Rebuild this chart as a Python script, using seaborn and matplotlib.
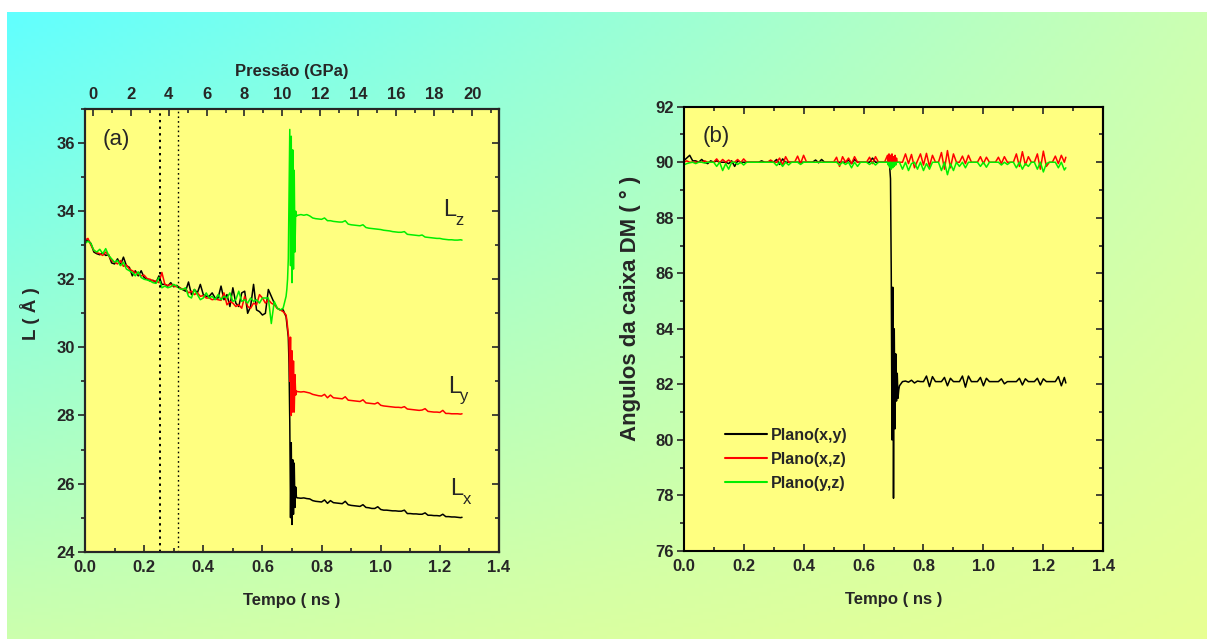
import numpy as np
import matplotlib
matplotlib.use("Agg")
import matplotlib.pyplot as plt
import seaborn as sns
from matplotlib.ticker import MultipleLocator

sns.set_style("ticks")
plt.rcParams["font.family"] = ["Liberation Sans", "DejaVu Sans"]
plt.rcParams["font.weight"] = "bold"

# ---- time grid (ns): coarse, dense window around the collapse, coarse again ----
t_early = np.round(np.arange(69) * 0.01, 4)
t_jump = np.round(0.6825 + np.arange(15) * 0.0025, 4)
t_late = np.round(np.append(0.72 + np.arange(56) * 0.01, 1.275), 4)
tempo = np.concatenate([t_early, t_jump, t_late])

# ---- box lengths L (Angstrom) ----
Lx = [33.10, 33.15, 33.05, 32.80, 32.75, 32.72, 32.78, 32.70, 32.72, 32.48,
      32.45, 32.60, 32.42, 32.65, 32.40, 32.35, 32.10, 32.25, 32.10, 32.25,
      32.05, 32.00, 31.95, 31.97, 31.90, 32.10, 31.85, 31.85, 31.80, 31.90,
      31.78, 31.82, 31.75, 31.70, 31.65, 31.92, 31.55, 31.70, 31.60, 31.85,
      31.55, 31.50, 31.50, 31.60, 31.45, 31.45, 31.80, 31.40, 31.55, 31.20,
      31.75, 31.30, 31.20, 31.60, 31.65, 31.00, 31.20, 31.85, 31.10, 31.05,
      30.95, 31.00, 31.70, 31.50, 31.30, 31.15, 31.10, 31.10, 30.90,
      30.70, 30.50, 30.30, 29.50, 27.80, 25.00, 27.20, 24.80, 26.70, 25.10,
      26.60, 25.30, 25.90, 25.60, 25.58,
      25.58, 25.57, 25.58, 25.56, 25.55, 25.50, 25.48, 25.47,
      25.46, 25.52, 25.42, 25.50, 25.44, 25.43, 25.42, 25.41, 25.48, 25.38,
      25.36, 25.35, 25.34, 25.33, 25.38, 25.30, 25.29, 25.27, 25.27, 25.32,
      25.24, 25.22, 25.22, 25.21, 25.20, 25.20, 25.19, 25.19, 25.22, 25.12,
      25.12, 25.11, 25.11, 25.10, 25.10, 25.14, 25.07, 25.07, 25.06, 25.06,
      25.05, 25.10, 25.03, 25.03, 25.02, 25.02, 25.01, 25.00, 25.01]

Ly = [33.15, 33.20, 33.00, 32.85, 32.78, 32.75, 32.70, 32.80, 32.70, 32.55,
      32.50, 32.45, 32.55, 32.38, 32.42, 32.30, 32.25, 32.20, 32.15, 32.10,
      32.12, 32.02, 32.00, 31.95, 31.95, 31.90, 32.20, 31.85, 31.82, 31.85,
      31.80, 31.78, 31.75, 31.70, 31.72, 31.60, 31.65, 31.55, 31.60, 31.50,
      31.52, 31.45, 31.45, 31.40, 31.42, 31.40, 31.38, 31.60, 31.25, 31.35,
      31.30, 31.20, 31.25, 31.15, 31.50, 31.20, 31.15, 31.30, 31.25, 31.55,
      31.45, 31.30, 31.40, 31.30, 31.25, 31.15, 31.10, 31.05, 30.95,
      30.80, 30.60, 30.40, 30.20, 29.00, 30.30, 28.00, 29.90, 28.10, 29.60,
      28.10, 29.20, 28.60, 28.72, 28.70,
      28.70, 28.69, 28.70, 28.68, 28.66, 28.62, 28.60, 28.58,
      28.57, 28.62, 28.52, 28.60, 28.52, 28.51, 28.50, 28.49, 28.55, 28.45,
      28.44, 28.43, 28.42, 28.41, 28.46, 28.37, 28.36, 28.35, 28.34, 28.38,
      28.30, 28.28, 28.27, 28.26, 28.25, 28.24, 28.24, 28.23, 28.26, 28.19,
      28.18, 28.17, 28.16, 28.15, 28.16, 28.20, 28.12, 28.11, 28.10, 28.10,
      28.09, 28.15, 28.06, 28.06, 28.05, 28.05, 28.05, 28.04, 28.05]

Lz = [33.05, 33.12, 33.05, 32.85, 32.80, 32.88, 32.75, 32.90, 32.70, 32.60,
      32.50, 32.55, 32.40, 32.50, 32.30, 32.25, 32.20, 32.10, 32.22, 32.05,
      32.00, 31.98, 31.95, 31.90, 31.88, 32.05, 31.75, 31.80, 31.75, 31.78,
      31.85, 31.80, 31.72, 31.70, 31.75, 31.50, 31.45, 31.70, 31.55, 31.40,
      31.45, 31.60, 31.45, 31.50, 31.40, 31.55, 31.40, 31.50, 31.45, 31.60,
      31.35, 31.40, 31.65, 31.35, 31.40, 31.30, 31.45, 31.35, 31.40, 31.30,
      31.45, 31.45, 31.45, 30.70, 31.35, 31.15, 31.10, 31.15, 31.50,
      31.70, 32.00, 32.60, 34.50, 36.40, 32.40, 36.20, 31.90, 35.80, 32.30,
      35.20, 32.80, 34.00, 33.85, 33.88,
      33.88, 33.90, 33.88, 33.90, 33.86, 33.80, 33.78, 33.77,
      33.76, 33.80, 33.72, 33.72, 33.70, 33.69, 33.68, 33.68, 33.72, 33.62,
      33.60, 33.59, 33.58, 33.57, 33.60, 33.52, 33.50, 33.49, 33.48, 33.47,
      33.46, 33.44, 33.43, 33.42, 33.40, 33.39, 33.38, 33.38, 33.40, 33.32,
      33.31, 33.30, 33.29, 33.28, 33.30, 33.24, 33.23, 33.22, 33.21, 33.20,
      33.20, 33.18, 33.17, 33.16, 33.16, 33.15, 33.15, 33.16, 33.15]

# ---- box angles (degrees) ----
ang_xy = [90.05, 90.15, 90.25, 90.05, 90.05, 90.00, 90.10, 90.00, 89.95, 90.05,
          90.00, 90.05, 90.00, 90.00, 90.00, 89.95, 90.05, 89.85, 90.05, 90.00,
          90.00, 90.00, 90.00, 90.00, 90.00, 90.00, 90.05, 90.00, 90.00, 90.05,
          90.00, 90.10, 89.92, 90.12, 90.00, 90.00, 90.00, 90.00, 90.00, 90.00,
          90.00, 90.00, 90.00, 90.00, 90.08, 89.98, 90.10, 90.00, 90.00, 90.00,
          90.00, 90.00, 90.00, 90.00, 90.00, 90.08, 89.95, 90.10, 90.00, 90.00,
          90.00, 90.00, 90.00, 90.15, 90.00, 90.00, 90.00, 90.00, 90.00,
          90.00, 89.95, 89.80, 89.40, 86.00, 80.00, 85.50, 77.90, 84.00, 80.40,
          83.10, 81.40, 82.40, 81.50, 81.80,
          81.95, 82.10, 82.12, 82.08, 82.15, 82.05, 82.12, 82.10,
          82.10, 82.30, 81.92, 82.28, 82.10, 82.10, 82.10, 82.25, 81.95, 82.22,
          82.10, 82.10, 82.10, 82.30, 81.90, 82.30, 82.10, 82.10, 82.10, 82.25,
          81.95, 82.22, 82.10, 82.10, 82.10, 82.10, 82.20, 82.02, 82.10, 82.10,
          82.10, 82.10, 82.22, 81.98, 82.20, 82.10, 82.10, 82.10, 82.22, 81.98,
          82.20, 82.10, 82.10, 82.10, 82.10, 82.28, 81.95, 82.25, 82.05]

ang_xz = [90.00, 90.05, 90.00, 90.00, 90.00, 90.00, 90.00, 90.05, 90.00, 90.00,
          90.00, 90.12, 89.98, 90.10, 90.00, 90.08, 90.00, 90.00, 90.10, 89.98,
          90.12, 90.00, 90.00, 90.00, 90.00, 90.00, 90.00, 90.00, 90.00, 90.08,
          90.00, 90.00, 90.15, 89.90, 90.20, 90.00, 90.00, 90.00, 90.22, 89.95,
          90.25, 90.00, 90.00, 90.00, 90.00, 90.00, 90.00, 90.00, 90.00, 90.00,
          90.00, 90.18, 89.85, 90.20, 90.00, 90.15, 89.95, 90.20, 90.00, 90.00,
          90.00, 90.00, 90.18, 89.95, 90.20, 90.00, 90.00, 90.00, 90.25,
          89.95, 90.30, 89.90, 90.25, 89.95, 90.30, 89.90, 90.20, 90.00, 90.25,
          89.95, 90.15, 90.00, 90.00, 90.00,
          90.00, 90.00, 90.30, 89.95, 90.28, 89.80, 90.05, 90.30,
          89.90, 90.32, 89.85, 90.25, 90.00, 90.00, 90.35, 89.75, 90.42, 89.80,
          90.30, 90.00, 90.00, 90.22, 89.95, 90.25, 90.00, 90.00, 90.00, 90.20,
          89.95, 90.18, 90.00, 90.00, 90.00, 90.18, 89.95, 90.20, 90.00, 90.00,
          90.00, 90.30, 89.85, 90.38, 89.90, 90.20, 90.00, 90.00, 90.30, 89.75,
          90.40, 89.85, 90.00, 90.00, 90.22, 89.95, 90.25, 90.00, 90.18]

ang_yz = [89.90, 89.95, 89.98, 90.00, 89.95, 90.00, 90.00, 89.97, 90.00, 90.00,
          90.00, 89.85, 90.00, 89.70, 89.95, 89.75, 90.00, 90.00, 89.92, 90.00,
          89.90, 90.00, 90.00, 90.00, 90.00, 90.00, 90.00, 90.00, 90.00, 90.00,
          90.00, 89.88, 90.00, 89.85, 90.00, 89.90, 90.00, 90.00, 90.00, 89.92,
          90.00, 90.00, 90.00, 90.00, 90.00, 90.00, 90.00, 90.00, 90.00, 90.00,
          90.00, 90.00, 89.90, 90.00, 89.92, 90.00, 89.80, 90.00, 89.85, 90.00,
          90.00, 90.00, 89.92, 90.00, 89.90, 90.00, 90.00, 90.00, 90.00,
          89.90, 90.00, 89.80, 90.00, 89.75, 90.00, 89.80, 90.00, 89.85, 90.00,
          89.90, 90.00, 90.00, 90.00, 90.00,
          90.00, 89.75, 90.00, 89.70, 89.95, 90.00, 89.75, 90.00,
          89.70, 89.95, 89.75, 90.00, 90.00, 90.00, 89.70, 90.00, 89.55, 89.95,
          89.70, 90.00, 89.85, 90.00, 89.80, 90.00, 90.00, 90.00, 90.00, 89.85,
          90.00, 89.82, 90.00, 90.00, 90.00, 90.00, 89.90, 90.00, 89.92, 90.00,
          90.00, 89.80, 90.00, 89.75, 89.95, 89.85, 90.00, 90.00, 89.75, 90.00,
          89.65, 89.95, 90.00, 90.00, 90.00, 89.80, 90.00, 89.72, 89.80]

# pressure scale on the top axis (GPa) and marked times (ns)
pressao_lim = (-0.41, 21.42)
pressao_ticks = [0, 2, 4, 6, 8, 10, 12, 14, 16, 18, 20]
marcas_t = [0.254, 0.316]
legenda = ["Plano(x,y)", "Plano(x,z)", "Plano(y,z)"]
t_ticks = [0.0, 0.2, 0.4, 0.6, 0.8, 1.0, 1.2, 1.4]

W, H = 1207, 639
fig = plt.figure(figsize=(W / 100, H / 100), dpi=100)
fig.patch.set_facecolor("white")

# gradient backdrop
bg = fig.add_axes([7 / W, 0, 1 - 7 / W, 1 - 12 / H], zorder=-5)
tl = np.array([0.38, 1.0, 1.0]); tr = np.array([0.80, 1.0, 0.70])
bl = np.array([0.80, 1.0, 0.68]); br = np.array([0.91, 1.0, 0.58])
u = np.linspace(0, 1, 300)[None, :, None]
v = np.linspace(0, 1, 160)[:, None, None]
grad = (1 - v) * ((1 - u) * tl + u * tr) + v * ((1 - u) * bl + u * br)
bg.imshow(np.clip(grad, 0, 1), aspect="auto", extent=[0, 1, 0, 1], origin="upper")
bg.axis("off")

panel_bg = "#ffff80"
verde = "#00ee00"
tick_font = dict(fontsize=12, fontweight="bold")


def fig_rect(x0, y0, x1, y1):
    return [x0 / W, 1 - y1 / H, (x1 - x0) / W, (y1 - y0) / H]


def set_lengths(ax):
    ax.tick_params(which="major", length=5, width=1.2)
    ax.tick_params(which="minor", length=3, width=1.2)


def style_axes(ax, yticks, top_ticks):
    ax.set_facecolor(panel_bg)
    for s in ax.spines.values():
        s.set_linewidth(1.5)
        s.set_color("black")
    ax.xaxis.set_minor_locator(MultipleLocator(0.1))
    ax.yaxis.set_minor_locator(MultipleLocator(1))
    ax.tick_params(axis="x", which="both", direction="in", bottom=True,
                   top=top_ticks, pad=6)
    # left ticks point outwards, right ticks inwards
    ax.tick_params(axis="y", which="both", direction="out", left=True,
                   right=False, pad=2)
    set_lengths(ax)
    ax.set_xticks(t_ticks)
    ax.set_xticklabels([f"{v:.1f}" for v in t_ticks], **tick_font)
    ax.set_yticks(yticks)
    ax.set_yticklabels([str(v) for v in yticks], **tick_font)
    right = ax.secondary_yaxis("right")
    right.set_yticks(yticks)
    right.yaxis.set_minor_locator(MultipleLocator(1))
    right.tick_params(which="both", direction="in", labelright=False)
    set_lengths(right)
    right.spines["right"].set_linewidth(1.5)


# ---------------- panel (a) ----------------
axa = fig.add_axes(fig_rect(85, 109, 499, 551.7))
sns.lineplot(x=tempo, y=Lx, ax=axa, color="black", lw=1.1, estimator=None, sort=False)
sns.lineplot(x=tempo, y=Ly, ax=axa, color="red", lw=1.1, estimator=None, sort=False)
sns.lineplot(x=tempo, y=Lz, ax=axa, color=verde, lw=1.1, estimator=None, sort=False)
for t, lw in zip(marcas_t, [1.4, 1.0]):
    axa.axvline(t, color="black", ls=(0, (1.2, 2.2)), lw=lw)
style_axes(axa, [24, 26, 28, 30, 32, 34, 36], top_ticks=False)
axa.set_xlim(0, 1.4)
axa.set_ylim(24, 37)
axa.set_xlabel("Tempo ( ns )", fontsize=12, fontweight="bold", labelpad=13)
axa.set_ylabel("L ( Å )", fontsize=13.5, fontweight="bold")
axa.yaxis.set_label_coords(-0.109, 0.537)
axa.text(0.043, 0.932, "(a)", transform=axa.transAxes, fontsize=16,
         fontweight="normal", va="center", ha="left")
for (tx, ty, main), (sx, sy, sub) in [
        ((1.211, 33.87, "L"), (1.251, 33.60, "z")),
        ((1.228, 28.66, "L"), (1.268, 28.43, "y")),
        ((1.234, 25.67, "L"), (1.278, 25.40, "x"))]:
    axa.text(tx, ty, main, fontsize=17, fontweight="normal", va="baseline")
    axa.text(sx, sy, sub, fontsize=12, fontweight="normal", va="baseline")

top = axa.twiny()
top.set_xlim(*pressao_lim)
top.set_xticks(pressao_ticks)
top.xaxis.set_minor_locator(MultipleLocator(1))
top.tick_params(which="both", direction="in", pad=5)
set_lengths(top)
top.set_xticklabels([str(p) for p in pressao_ticks], **tick_font)
top.set_xlim(*pressao_lim)
top.set_xlabel("Pressão (GPa)", fontsize=12, fontweight="bold", labelpad=8)
for s in top.spines.values():
    s.set_linewidth(1.5)

# ---------------- panel (b) ----------------
axb = fig.add_axes(fig_rect(683.7, 106.7, 1103.3, 551))
sns.lineplot(x=tempo, y=ang_xy, ax=axb, color="black", lw=1.1, estimator=None,
             sort=False, label=legenda[0])
sns.lineplot(x=tempo, y=ang_xz, ax=axb, color="red", lw=1.1, estimator=None,
             sort=False, label=legenda[1])
sns.lineplot(x=tempo, y=ang_yz, ax=axb, color=verde, lw=1.1, estimator=None,
             sort=False, label=legenda[2])
style_axes(axb, [76, 78, 80, 82, 84, 86, 88, 90, 92], top_ticks=True)
axb.set_xlim(0, 1.4)
axb.set_ylim(76, 92)
axb.set_xlabel("Tempo ( ns )", fontsize=12, fontweight="bold", labelpad=13)
axb.set_ylabel("Angulos da caixa DM ( ° )", fontsize=16, fontweight="bold")
axb.yaxis.set_label_coords(-0.102, 0.545)
axb.text(0.044, 0.934, "(b)", transform=axb.transAxes, fontsize=16,
         fontweight="normal", va="center", ha="left")
leg = axb.legend(loc="upper left", bbox_to_anchor=(725 / W, 1 - 428 / H),
                 bbox_transform=fig.transFigure, frameon=False,
                 prop=dict(size=11.5, weight="bold"), handlelength=2.6,
                 handletextpad=0.3, labelspacing=0.55, borderpad=0,
                 borderaxespad=0)
for h in leg.get_lines():
    h.set_linewidth(1.5)

fig.savefig("out.png", dpi=100, facecolor=fig.get_facecolor())
